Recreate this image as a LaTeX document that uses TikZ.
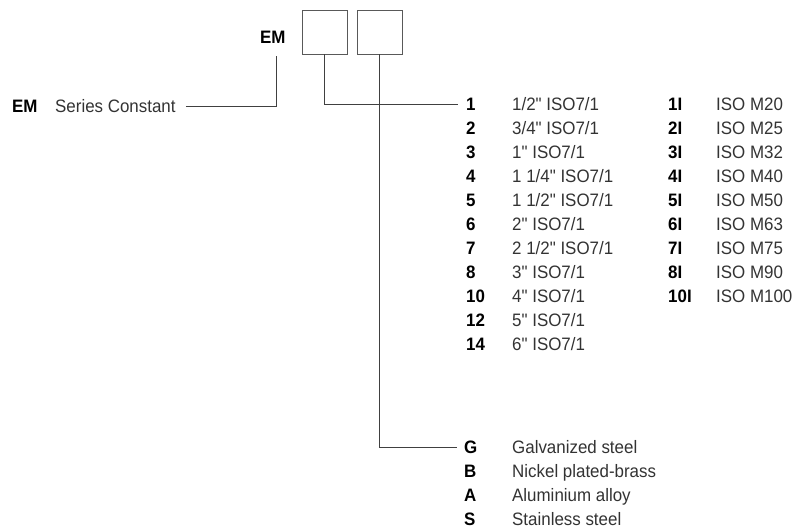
\documentclass[tikz,border=0pt]{standalone}
\usepackage{fontspec}
\setmainfont{Liberation Sans}[Ligatures=TeXOff, FakeStretch=0.94]
\usepackage{xcolor}
\usepackage{tikz}
\usetikzlibrary{positioning, calc}

\begin{document}
\begin{tikzpicture}[x=1pt,y=-1pt,
    code/.style={anchor=west, inner sep=0pt, text height=13pt, text depth=0pt,
        font=\fontsize{18}{21}\selectfont\bfseries, text=black},
    desc/.style={anchor=west, inner sep=0pt, text height=13pt, text depth=0pt,
        font=\fontsize{18}{21}\selectfont, text=black!80},
    slot/.style={draw=black!65, line width=0.8pt, minimum width=45pt, minimum height=44pt, inner sep=0pt},
    link/.style={draw=black!75, line width=0.8pt}]
        \useasboundingbox (0,0) rectangle (793,528);

        % Order code: prefix and two empty slots
        \node[code] (emtop) at (260,37) {EM};
        \node[slot] (box1) at (324.5,32) {};
        \node[slot] (box2) at (379.5,32) {};

        % Series constant
        \node[code] (emleft) at (12,106) {EM};
        \node[desc] (series) at (55,106) {Series Constant};

        % Connection sizes (left column)
        \node[code] (c1) at (466,104) {1};   \node[desc] (d1) at (512,104) {1/2" ISO7/1};
        \node[code] (c2) at (466,128) {2};   \node[desc] (d2) at (512,128) {3/4" ISO7/1};
        \node[code] (c3) at (466,152) {3};   \node[desc] (d3) at (512,152) {1" ISO7/1};
        \node[code] (c4) at (466,176) {4};   \node[desc] (d4) at (512,176) {1 1/4" ISO7/1};
        \node[code] (c5) at (466,200) {5};   \node[desc] (d5) at (512,200) {1 1/2" ISO7/1};
        \node[code] (c6) at (466,224) {6};   \node[desc] (d6) at (512,224) {2" ISO7/1};
        \node[code] (c7) at (466,248) {7};   \node[desc] (d7) at (512,248) {2 1/2" ISO7/1};
        \node[code] (c8) at (466,272) {8};   \node[desc] (d8) at (512,272) {3" ISO7/1};
        \node[code] (c10) at (466,296) {10}; \node[desc] (d10) at (512,296) {4" ISO7/1};
        \node[code] (c12) at (466,320) {12}; \node[desc] (d12) at (512,320) {5" ISO7/1};
        \node[code] (c14) at (466,344) {14}; \node[desc] (d14) at (512,344) {6" ISO7/1};

        % Connection sizes (right column, metric)
        \node[code] (i1) at (668,104) {1I};   \node[desc] (m1) at (716,104) {ISO M20};
        \node[code] (i2) at (668,128) {2I};   \node[desc] (m2) at (716,128) {ISO M25};
        \node[code] (i3) at (668,152) {3I};   \node[desc] (m3) at (716,152) {ISO M32};
        \node[code] (i4) at (668,176) {4I};   \node[desc] (m4) at (716,176) {ISO M40};
        \node[code] (i5) at (668,200) {5I};   \node[desc] (m5) at (716,200) {ISO M50};
        \node[code] (i6) at (668,224) {6I};   \node[desc] (m6) at (716,224) {ISO M63};
        \node[code] (i7) at (668,248) {7I};   \node[desc] (m7) at (716,248) {ISO M75};
        \node[code] (i8) at (668,272) {8I};   \node[desc] (m8) at (716,272) {ISO M90};
        \node[code] (i10) at (668,296) {10I}; \node[desc] (m10) at (716,296) {ISO M100};

        % Body materials
        \node[code] (mg) at (464,447) {G};   \node[desc] (tg) at (512,447) {Galvanized steel};
        \node[code] (mb) at (464,471) {B};   \node[desc] (tb) at (512,471) {Nickel plated-brass};
        \node[code] (ma) at (464,495) {A};   \node[desc] (ta) at (512,495) {Aluminium alloy};
        \node[code] (ms) at (464,519) {S};   \node[desc] (ts) at (512,519) {Stainless steel};

        % Leader lines
        \draw[link] ([xshift=10pt]series.east) -| ([xshift=3.5pt,yshift=-12pt]emtop.south);
        \draw[link] (box1.south) |- ([xshift=-8pt]c1.west);
        \draw[link] (box2.south) |- ([xshift=-7pt]mg.west);
    \end{tikzpicture}
\end{document}
